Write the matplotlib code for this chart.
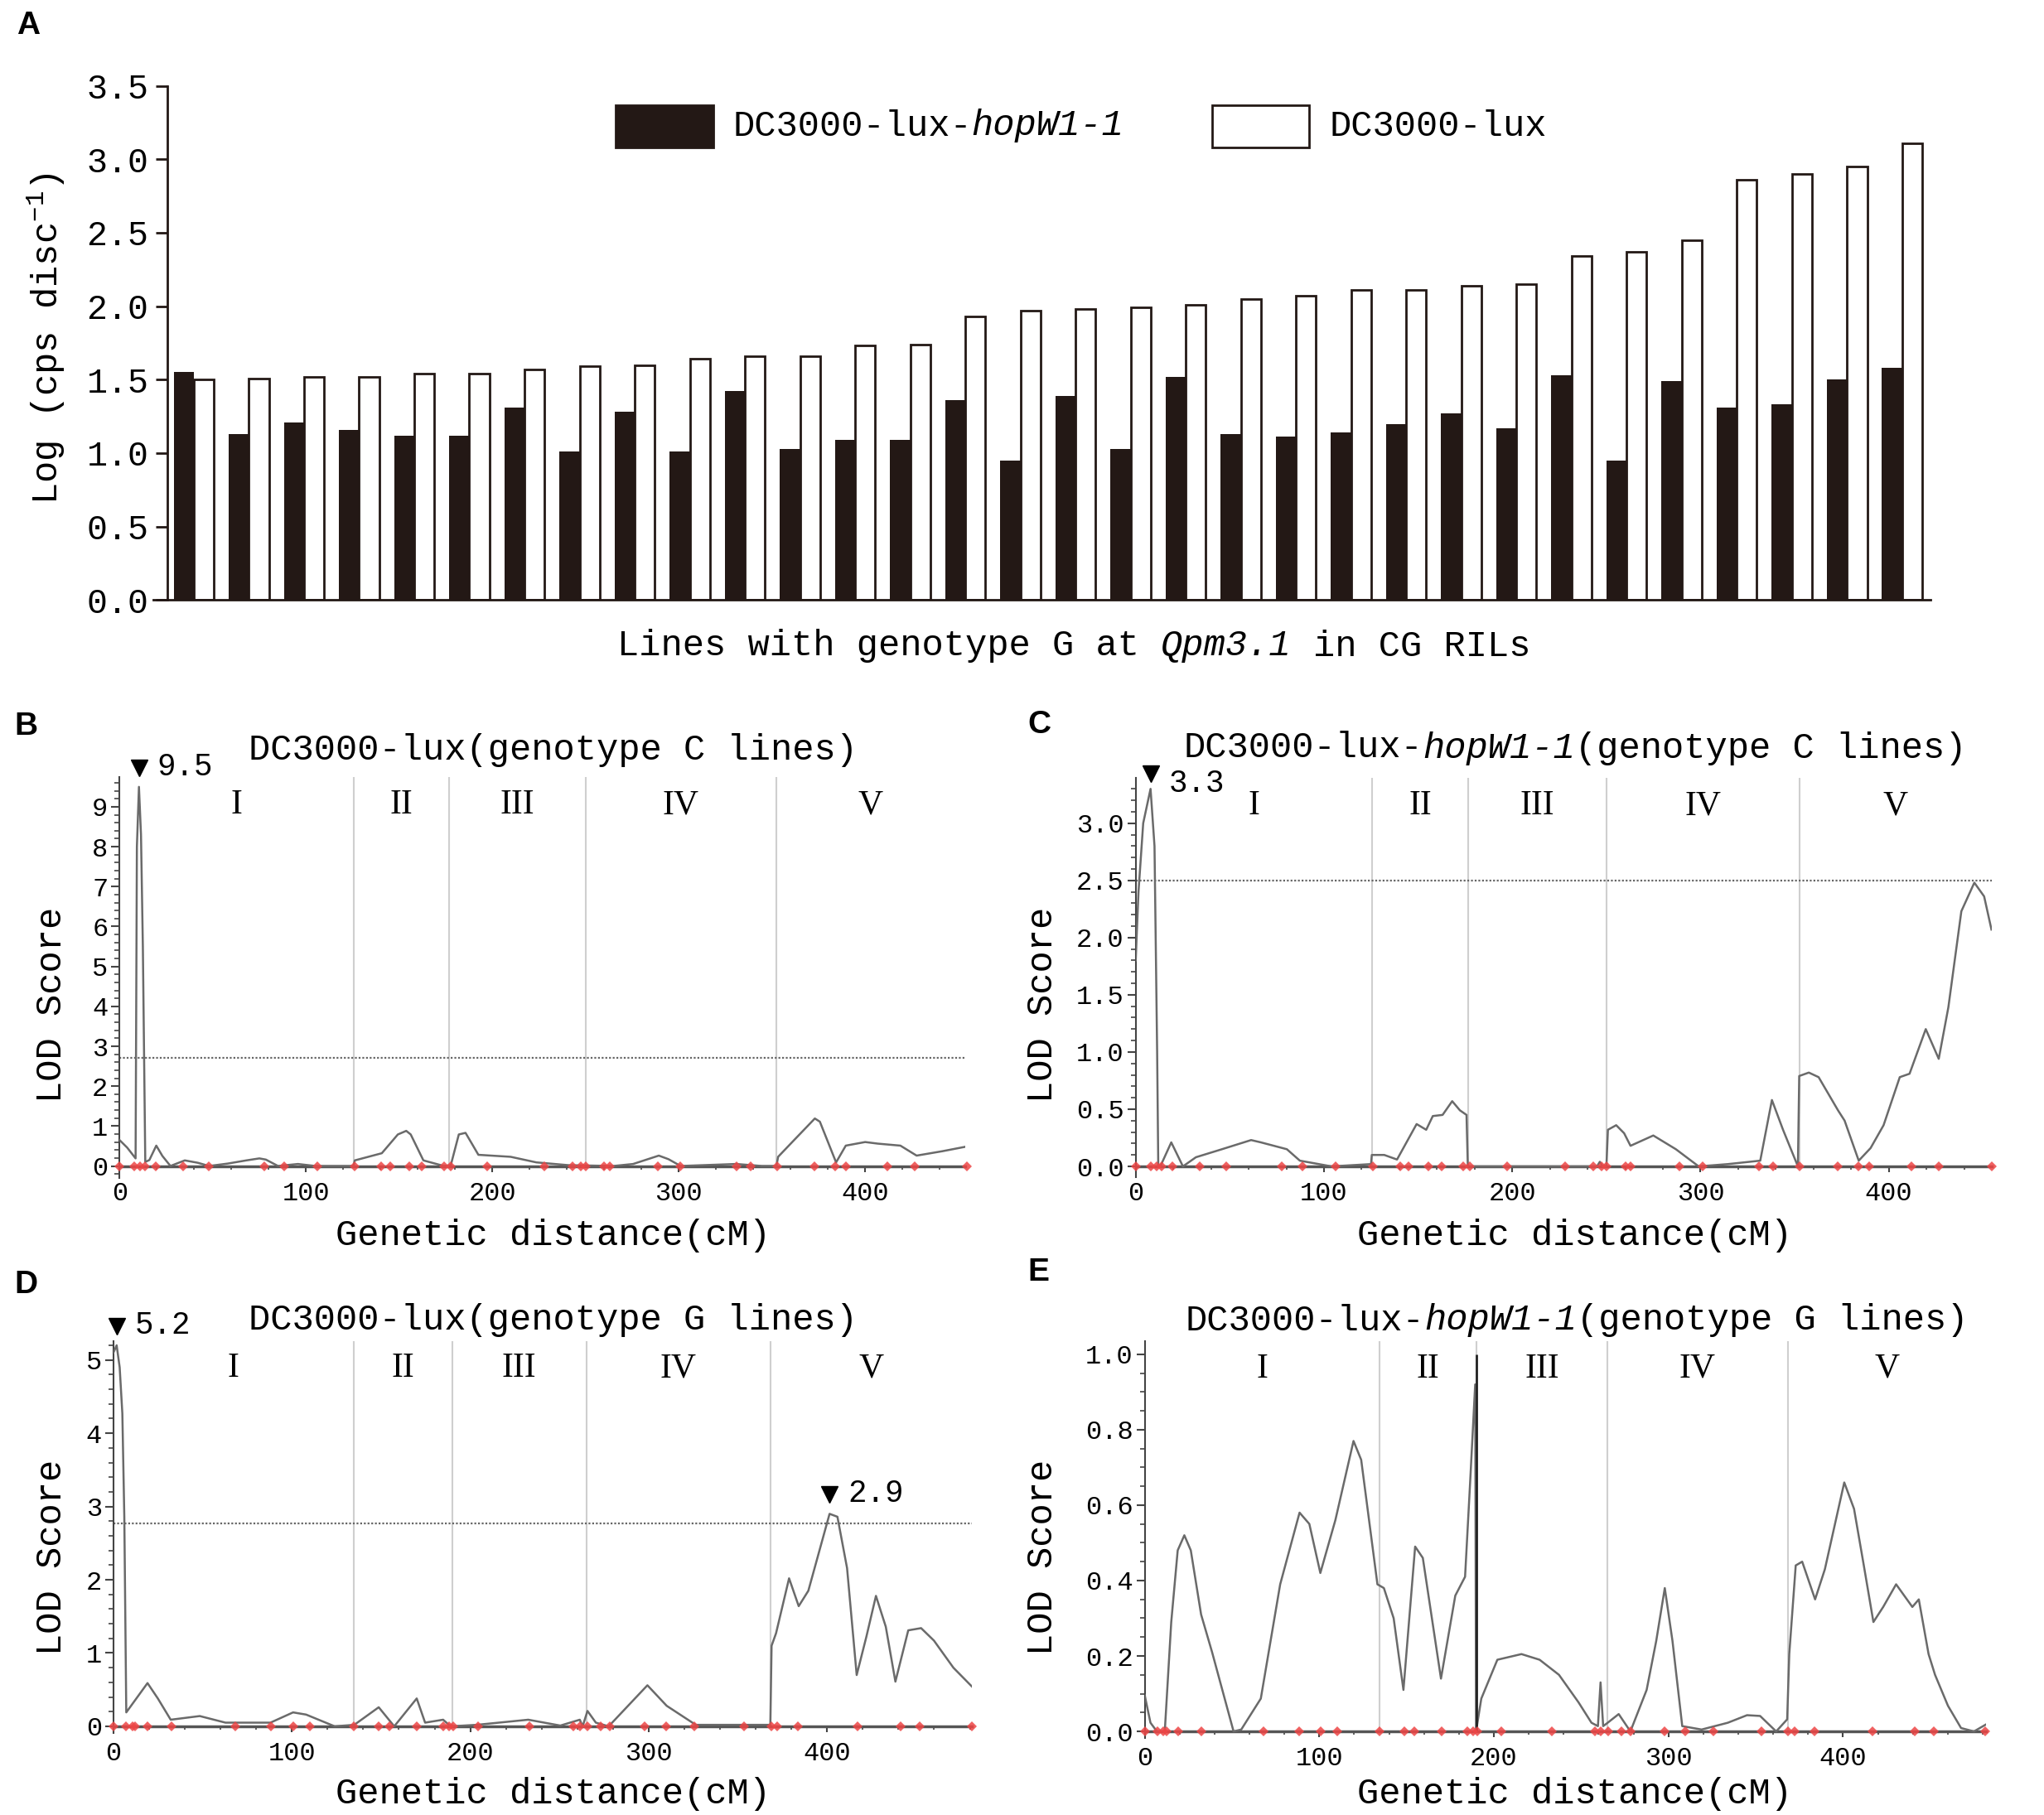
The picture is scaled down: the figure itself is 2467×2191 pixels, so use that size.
import numpy as np
import matplotlib
matplotlib.use("Agg")
import matplotlib.pyplot as plt
from matplotlib.patches import Rectangle
from matplotlib.ticker import MultipleLocator, FormatStrFormatter
from matplotlib.transforms import offset_copy

# fonts
plt.rcParams["font.family"] = "Liberation Mono"
plt.rcParams["mathtext.fontset"] = "custom"
plt.rcParams["mathtext.rm"] = "Liberation Mono"
plt.rcParams["mathtext.it"] = "Liberation Mono:italic"

W, H, DPI = 2467, 2191, 100
DARK = "#231815"

# ---------------- panel A data ----------------
hopw1_vals = [1.55, 1.13, 1.21, 1.16, 1.12, 1.12, 1.31, 1.01, 1.28, 1.01, 1.42, 1.03,
              1.09, 1.09, 1.36, 0.95, 1.39, 1.03, 1.52, 1.13, 1.11, 1.14, 1.20, 1.27,
              1.17, 1.53, 0.95, 1.49, 1.31, 1.33, 1.50, 1.58]
lux_vals = [1.50, 1.51, 1.52, 1.52, 1.54, 1.54, 1.57, 1.59, 1.60, 1.64, 1.66, 1.66,
            1.73, 1.74, 1.93, 1.97, 1.98, 1.99, 2.01, 2.05, 2.07, 2.11, 2.11, 2.14,
            2.15, 2.34, 2.37, 2.45, 2.86, 2.90, 2.95, 3.11]

# ---------------- LOD data ----------------
# genetic maps (chromosome boundaries, cM) and marker positions
bounds_C = [125.7, 176.8, 250.0, 352.4]
bounds_G = [134.5, 189.8, 265.1, 368.3]
markers_C = [0, 8, 11, 13.6, 19.5, 34, 48, 77.7, 88.5, 106, 126, 140.5, 145, 155.3,
             162.3, 174, 177.5, 197.2, 228, 243, 247.5, 250, 260, 263, 289, 301, 331,
             338.7, 352.8, 373, 384, 389.5, 412, 426.7, 454.5]
markers_G = [0, 7.2, 10.5, 12.3, 19.1, 32.5, 68.2, 88.4, 100.7, 110.1, 134.7, 148.7,
             154.5, 170.0, 184.8, 188.1, 190.3, 204.3, 233.2, 257.8, 261.4, 265.7,
             272.9, 278.3, 297.8, 309.7, 325.6, 353.4, 368.6, 372.2, 383.8, 417.0,
             441.2, 452.0, 481.3]
chrom_names = ["I", "II", "III", "IV", "V"]

# B: DC3000-lux, genotype C lines
lodB_x = [0, 4.1, 8.6, 9.3, 10.4, 11.5, 12.5, 13.8, 16, 19.7, 23, 27.3, 35, 42, 48, 58,
          68, 75, 78.5, 85, 95.7, 105, 125.5, 126.2, 140.7, 149.3, 153.8, 156.2, 163,
          174, 177.7, 182, 185.6, 189, 192.5, 199.4, 209.8, 223.6, 240.9, 265, 275.5,
          289.3, 294.5, 301, 330.8, 344.6, 352.4, 353.3, 361.9, 373, 375.7, 384.4,
          389.6, 400, 406.8, 418.9, 427.6, 441.4, 453.6]
lodB_y = [0.65, 0.46, 0.19, 8.0, 9.5, 8.3, 5.5, 0.1, 0.15, 0.51, 0.25, 0.0, 0.14, 0.08,
          0.0, 0.06, 0.14, 0.19, 0.16, 0.0, 0.05, 0.0, 0.0, 0.14, 0.32, 0.79, 0.88, 0.79,
          0.14, 0.0, 0.02, 0.79, 0.83, 0.56, 0.28, 0.26, 0.23, 0.09, 0.02, 0.0, 0.05,
          0.26, 0.17, 0.0, 0.05, 0.0, 0.0, 0.23, 0.65, 1.19, 1.11, 0.09, 0.51, 0.6,
          0.56, 0.51, 0.26, 0.37, 0.48]

# C: DC3000-lux-hopW1-1, genotype C lines
lodC_x = [0, 1.5, 4, 7.9, 10, 11.4, 12, 13.1, 18.9, 25.1, 32, 45.8, 61.3, 66.5, 80.3,
          87.2, 104, 125, 125.4, 132, 138.8, 149.2, 154.3, 157.8, 163, 168.1, 172.2,
          175.7, 176.4, 245, 246.5, 248, 250, 250.8, 255.2, 259.4, 262.8, 274.9, 286.9,
          299, 314.5, 331.7, 337.9, 343.8, 351.7, 352.4, 357.5, 362.7, 373, 376.5, 384,
          390.3, 397.2, 405.8, 411, 419.6, 426.5, 431.6, 438.5, 445.4, 450.6, 454.5]
lodC_y = [1.8, 2.4, 3.0, 3.3, 2.8, 1.0, 0.0, 0.0, 0.21, 0.0, 0.08, 0.15, 0.23, 0.21,
          0.15, 0.05, 0.0, 0.02, 0.1, 0.1, 0.06, 0.37, 0.32, 0.44, 0.45, 0.57, 0.49,
          0.45, 0.0, 0.0, 0.04, 0.0, 0.0, 0.32, 0.36, 0.29, 0.18, 0.27, 0.15, 0.0, 0.02,
          0.05, 0.58, 0.32, 0.0, 0.79, 0.82, 0.78, 0.49, 0.4, 0.05, 0.16, 0.36, 0.78,
          0.81, 1.2, 0.94, 1.39, 2.23, 2.48, 2.36, 2.07]

# D: DC3000-lux, genotype G lines
lodD_x = [0, 1.8, 3.5, 5, 6.1, 7.2, 19.1, 24.9, 32.1, 48.4, 62.8, 88, 100.7, 108, 124,
          135, 148.7, 157.4, 170, 174.7, 184.8, 189, 203.6, 232.5, 250.5, 261.4, 263,
          265.7, 270.4, 277.6, 299.3, 310.1, 326.4, 351.6, 368.2, 368.9, 371.4, 378.7,
          384.1, 389.5, 401.4, 405.8, 411.2, 416.6, 422, 427.4, 432.9, 438.3, 445.5,
          452.7, 459.9, 470.8, 481.3]
lodD_y = [5.1, 5.2, 4.9, 4.27, 2.86, 0.19, 0.59, 0.38, 0.09, 0.14, 0.05, 0.05, 0.19,
          0.16, 0.0, 0.02, 0.26, 0.0, 0.38, 0.05, 0.09, 0.0, 0.02, 0.09, 0.01, 0.09, 0.0,
          0.21, 0.05, 0.0, 0.56, 0.28, 0.02, 0.02, 0.02, 1.1, 1.27, 2.02, 1.64, 1.85,
          2.9, 2.86, 2.16, 0.7, 1.22, 1.78, 1.36, 0.61, 1.31, 1.34, 1.17, 0.8, 0.54]

# E: DC3000-lux-hopW1-1, genotype G lines
lodE_x = [0, 3.3, 7, 11.5, 15.2, 18.9, 22.7, 26.4, 32.3, 38.6, 50.9, 55.3, 66.5, 77.6,
          88.7, 94.3, 100.6, 109.2, 119.6, 124, 133.3, 137, 142.6, 148.2, 154.9, 159.3,
          169.7, 177.9, 183.5, 186.4, 189.3, 189.8, 192.8, 202, 215.8, 226.2, 237.3,
          248.5, 255.9, 259.6, 261.1, 262.6, 265.2, 271.5, 278.2, 287.5, 293, 297.9,
          302.3, 307.9, 319, 334, 345, 352.5, 361.7, 368, 369.2, 372.9, 376.6, 384,
          389.6, 400.7, 406.3, 411.9, 417.4, 423, 430.4, 439.7, 443.4, 449, 452.7,
          460.1, 467.6, 475, 481.7]
lodE_y = [0.096, 0.023, 0.0, 0.0, 0.29, 0.48, 0.52, 0.48, 0.31, 0.21, 0.0, 0.005, 0.087,
          0.39, 0.58, 0.55, 0.42, 0.56, 0.77, 0.72, 0.39, 0.38, 0.30, 0.11, 0.49, 0.46,
          0.14, 0.36, 0.41, 0.66, 0.92, 0.0, 0.087, 0.19, 0.205, 0.19, 0.15, 0.077,
          0.023, 0.014, 0.13, 0.014, 0.023, 0.046, 0.0, 0.11, 0.24, 0.38, 0.24, 0.014,
          0.005, 0.023, 0.043, 0.041, 0.0, 0.032, 0.205, 0.44, 0.45, 0.35, 0.43, 0.66,
          0.59, 0.44, 0.29, 0.33, 0.39, 0.33, 0.35, 0.205, 0.15, 0.068, 0.009, 0.0,
          0.018]


fig = plt.figure(figsize=(W / DPI, H / DPI), dpi=DPI)


def ax_px(l, t, r, b):
    return fig.add_axes([l / W, 1 - b / H, (r - l) / W, (b - t) / H])


def txt(x, y, s, **kw):
    return fig.text(x / W, 1 - y / H, s, **kw)


def mixed(x, y, parts, size, ha="center"):
    # monospaced font: every character has the same advance
    adv = 0.6 * size * DPI / 72
    full = "".join(p for p, _ in parts)
    x0 = x - len(full) * adv / 2 if ha == "center" else x
    i = 0
    for p, it in parts:
        s = p.strip()
        lead = len(p) - len(p.lstrip())
        if s:
            txt(x0 + (i + lead) * adv, y, s, size=size, ha="left", va="center",
                style="italic" if it else "normal")
        i += len(p)


BIG = 31.5

# ================= panel A =================
ax = ax_px(185, 103.5, 2330, 724.4)
idx = np.arange(len(lux_vals))
bw = 0.365
ax.bar(idx - bw / 2, hopw1_vals, bw, color=DARK, linewidth=0)
ax.bar(idx + bw / 2, lux_vals, bw, facecolor="white", edgecolor=DARK, linewidth=2)
ax.set_xlim(-0.736, 31.515)
ax.set_ylim(0, 3.5)
ax.spines["left"].set_position(("data", -0.485))
for s in ["top", "right"]:
    ax.spines[s].set_visible(False)
for s in ["left", "bottom"]:
    ax.spines[s].set_linewidth(2)
    ax.spines[s].set_color(DARK)
ax.set_xticks([])
ax.yaxis.set_major_locator(MultipleLocator(0.5))
ax.yaxis.set_major_formatter(FormatStrFormatter("%.1f"))
ax.tick_params(axis="y", labelsize=30, length=10, width=2, pad=6, color=DARK)

txt(56, 409, "Log (cps disc$^{-1}$)", size=BIG, rotation=90, ha="center", va="center")
mixed(1296, 780, [("Lines with genotype G at ", False), ("Qpm3.1", True),
                  (" in CG RILs", False)], BIG)

# legend
for (l, t, r, b), fc in [((743, 127, 861, 178), DARK), ((1463, 127, 1580, 178), "white")]:
    fig.add_artist(Rectangle((l / W, 1 - b / H), (r - l) / W, (b - t) / H,
                             transform=fig.transFigure, facecolor=fc, edgecolor=DARK,
                             linewidth=2))
mixed(884, 152, [("DC3000-lux-", False), ("hopW1-1", True)], BIG, ha="left")
mixed(1604, 152, [("DC3000-lux", False)], BIG, ha="left")


# ================= LOD panels =================
def lod_panel(box, xs, ys, markers, bounds, xend, ylim, ymaj, ymin, yfmt,
              thresh=None, peak_windows=(), tri_dy=23, lab_dy=24):
    ax = ax_px(*box)
    ax.set_xlim(0, xend)
    ax.set_ylim(*ylim)
    for s in ["top", "right"]:
        ax.spines[s].set_visible(False)
    ax.spines["bottom"].set_position(("data", 0))
    ax.spines["bottom"].set_color("#555555")
    ax.spines["bottom"].set_linewidth(2.5)
    ax.spines["left"].set_color("#444444")
    ax.spines["left"].set_linewidth(1.5)
    ax.xaxis.set_major_locator(MultipleLocator(100))
    ax.xaxis.set_minor_locator(MultipleLocator(20))
    ax.yaxis.set_major_locator(MultipleLocator(ymaj))
    ax.yaxis.set_minor_locator(MultipleLocator(ymin))
    ax.yaxis.set_major_formatter(FormatStrFormatter(yfmt))
    ax.tick_params(which="both", labelsize=23, color="#444444")
    ax.tick_params(axis="y", which="major", length=7, width=1.5, pad=3)
    ax.tick_params(axis="y", which="minor", length=4, width=1.2)
    ax.tick_params(axis="x", which="major", length=5, width=1.5, pad=8)
    ax.tick_params(axis="x", which="minor", length=3, width=1.2)

    ytop = ylim[1]
    ax.vlines(bounds, 0, ytop, color="#cfcfcf", linewidth=1.5, zorder=1)
    edges = [0] + list(bounds) + [xend]
    for k, name in enumerate(chrom_names):
        ax.text((edges[k] + edges[k + 1]) / 2, 0.93, name, transform=ax.get_xaxis_transform(),
                family="Liberation Serif", size=30, ha="center", va="center")
    if thresh is not None:
        ax.axhline(thresh, color="#666666", linewidth=1.6, linestyle=(0, (1, 1)), zorder=2)
    ax.plot(xs, ys, color="#6a6a6a", linewidth=1.8, zorder=3)
    ax.plot(markers, np.zeros(len(markers)), linestyle="none", marker="D", ms=6,
            color="#ee4545", alpha=0.85, markeredgewidth=0, clip_on=False, zorder=5)

    xs_a, ys_a = np.asarray(xs), np.asarray(ys)
    tri = offset_copy(ax.transData, fig=fig, x=0, y=tri_dy, units="dots")
    lab = offset_copy(ax.transData, fig=fig, x=22, y=lab_dy, units="dots")
    for lo, hi in peak_windows:
        sel = np.where((xs_a >= lo) & (xs_a <= hi))[0]
        i = sel[np.argmax(ys_a[sel])]
        ax.plot([xs_a[i]], [ys_a[i]], marker="v", ms=15, color="black",
                transform=tri, clip_on=False, zorder=6)
        ax.text(xs_a[i], ys_a[i], f"{ys_a[i]:.1f}", transform=lab, size=27,
                ha="left", va="center", clip_on=False)
    return ax


axB = lod_panel((144.3, 938.3, 1164.8, 1421.5), lodB_x, lodB_y, markers_C, bounds_C,
                453.6, (-0.29, 9.74), 1, 0.2, "%d", thresh=2.7, peak_windows=[(0, 30)])
axC = lod_panel((1370.7, 939.3, 2403.6, 1421.0), lodC_x, lodC_y, markers_C, bounds_C,
                454.5, (-0.094, 3.394), 0.5, 0.1, "%.1f", thresh=2.5, peak_windows=[(0, 30)],
                tri_dy=18, lab_dy=6)
axD = lod_panel((136.9, 1618.7, 1173.3, 2091.9), lodD_x, lodD_y, markers_G, bounds_G,
                481.3, (-0.09, 5.26), 1, 0.2, "%d", thresh=2.77,
                peak_windows=[(0, 30), (380, 420)])
axE = lod_panel((1381.6, 1618.8, 2396.6, 2098.3), lodE_x, lodE_y, markers_G, bounds_G,
                481.7, (-0.018, 1.035), 0.2, 0.05, "%.1f")
# dark line at the II/III boundary in panel E
axE.vlines(bounds_G[1], 0, 1.0, color="#222222", linewidth=2, zorder=4)

# titles and axis labels
mixed(667, 905, [("DC3000-lux(genotype C lines)", False)], BIG)
mixed(1901, 903, [("DC3000-lux-", False), ("hopW1-1", True), ("(genotype C lines)", False)], BIG)
mixed(667, 1593, [("DC3000-lux(genotype G lines)", False)], BIG)
mixed(1903, 1594, [("DC3000-lux-", False), ("hopW1-1", True), ("(genotype G lines)", False)], BIG)
for xc, yc in [(667, 1492), (1900, 1492), (667, 2165), (1900, 2165)]:
    mixed(xc, yc, [("Genetic distance(cM)", False)], BIG)
for xc, yc in [(62, 1213), (1258, 1213), (62, 1880), (1258, 1880)]:
    txt(xc, yc, "LOD Score", size=BIG, rotation=90, ha="center", va="center")

# panel letters
for letter, (xl, yt) in {"A": (20, 13), "B": (17, 859), "C": (1240, 857),
                         "D": (17, 1533), "E": (1240, 1518)}.items():
    txt(xl, yt, letter, family="Liberation Sans", weight="bold", size=28,
        ha="left", va="top")

fig.savefig("out.png", dpi=DPI, facecolor="white")
